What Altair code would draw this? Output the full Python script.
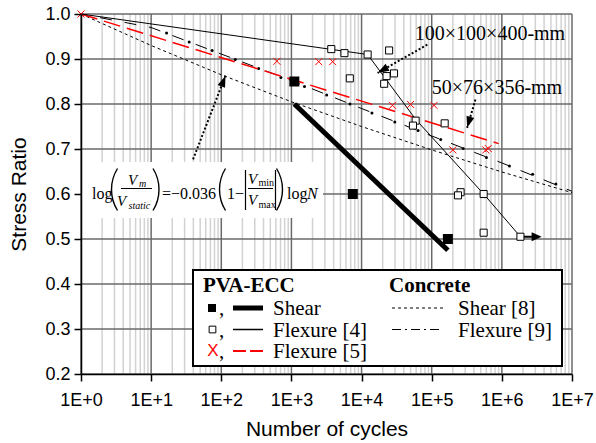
import math
import altair as alt
import pandas as pd

# ---------------- data ----------------
x_ticks = [1, 10, 100, 1000, 10000, 100000, 1000000, 10000000]
y_ticks = [0.2, 0.3, 0.4, 0.5, 0.6, 0.7, 0.8, 0.9, 1.0]

# PVA-ECC shear: filled squares + thick fit line
ecc_shear_n = [1100, 7500, 170000]
ecc_shear_s = [0.85, 0.60, 0.50]
ecc_shear_fit_n = [1100, 170000]
ecc_shear_fit_s = [0.80, 0.475]

# PVA-ECC flexure [4]: open squares + thin line + run-out arrow
ecc_flex4_n = [3700, 5700, 6800, 12200, 24700, 29000, 22700, 21000, 59000,
               54000, 153000, 258000, 237000, 550000, 550000, 1840000]
ecc_flex4_s = [0.922, 0.913, 0.857, 0.910, 0.919, 0.868, 0.862, 0.845, 0.763,
               0.752, 0.757, 0.604, 0.597, 0.600, 0.514, 0.505]
ecc_flex4_fit_n = [1, 12200, 59000, 550000, 1840000]
ecc_flex4_fit_s = [1.0, 0.910, 0.766, 0.600, 0.505]
ecc_flex4_runout_n = [1840000, 3300000]
ecc_flex4_runout_s = [0.505, 0.505]
ecc_flex4_runout_tip_n = [3690000]
ecc_flex4_runout_tip_s = [0.505]

# PVA-ECC flexure [5]: red crosses + red dashed line
ecc_flex5_n = [1, 621, 2450, 3870, 27600, 50000, 108000, 200000, 590000, 640000]
ecc_flex5_s = [1.0, 0.895, 0.894, 0.894, 0.797, 0.799, 0.797, 0.698, 0.698, 0.701]
ecc_flex5_fit_n = [1, 900000]
ecc_flex5_fit_s = [1.0, 0.712]

# Concrete shear [8]
conc_shear_n = [1, 10, 100, 1000, 10000, 100000, 1000000, 10000000]
conc_shear_s = [1.0, 0.930, 0.865, 0.805, 0.750, 0.698, 0.649, 0.603]

# Concrete flexure [9]
conc_flex_n = [1, 10, 100, 1000, 10000, 100000, 1000000, 10000000]
conc_flex_s = [1.0, 0.970, 0.911, 0.852, 0.790, 0.729, 0.669, 0.606]
conc_flex_dot_n = [16.6, 34.9, 74.1, 158, 341, 708, 1535, 3184, 6839, 14060,
                   29790, 63830, 134300, 281200, 602600, 1282000, 2748000, 5888000]
conc_flex_dot_s = [0.958, 0.938, 0.919, 0.899, 0.879, 0.859, 0.839, 0.820, 0.800,
                   0.780, 0.760, 0.741, 0.721, 0.701, 0.681, 0.662, 0.644, 0.622]

# annotation arrows (start -> tip)
arrow_start_n = [39.6, 86600, 420000]
arrow_start_s = [0.677, 0.932, 0.810]
arrow_tip_n = [114.8, 16900, 320000]
arrow_tip_s = [0.863, 0.869, 0.747]

# ---------------- layout ----------------
W, H = 491, 360
PADL, PADT = 81, 14
SERIF = "Liberation Serif"
SANS = "Liberation Sans"

xs = alt.Scale(type="log", domain=[1, 1e7], nice=False)
ys = alt.Scale(domain=[0.2, 1.0], nice=False, zero=False)
one = pd.DataFrame({"k": [0]})

x_axis = alt.Axis(
    values=x_ticks, labelExpr="'1E+' + format(log(datum.value)/LN10, '.0f')",
    labelFont=SANS, labelFontSize=18, labelColor="black", labelPadding=10,
    labelFlush=False, labelOverlap=False,
    tickColor="black", tickSize=7, tickWidth=1.5,
    domainColor="black", domainWidth=1.5, grid=False,
    title="Number of cycles", titleFont=SANS, titleFontSize=21,
    titleFontWeight="normal", titleColor="black",
    titleX=W / 2, titleY=61, titleAlign="center", titleBaseline="alphabetic",
    zindex=1,
)
y_axis = alt.Axis(
    values=y_ticks, format=".1f",
    labelFont=SANS, labelFontSize=18, labelColor="black", labelPadding=4,
    tickColor="black", tickSize=7, tickWidth=1.5,
    domainColor="black", domainWidth=1.5, grid=False,
    title="Stress Ratio", titleFont=SANS, titleFontSize=21,
    titleFontWeight="normal", titleColor="black",
    titleX=-56, titleY=H / 2, titleAngle=270, titleAlign="center",
    titleBaseline="alphabetic", zindex=1,
)


def df(n, s):
    return pd.DataFrame({"n": n, "s": s})


def X():
    return alt.X("n:Q", scale=xs, axis=x_axis)


def Y():
    return alt.Y("s:Q", scale=ys, axis=y_axis)


def txt(s, x, y, size, font=SERIF, style="normal", weight="normal",
        align="left", baseline="alphabetic", color="black"):
    return alt.Chart(one).mark_text(
        text=s, font=font, fontSize=size, fontStyle=style, fontWeight=weight,
        align=align, baseline=baseline, color=color
    ).encode(x=alt.value(x - PADL), y=alt.value(y - PADT))


def hline(x1, x2, y, width=1.0, dash=None, color="black"):
    kw = dict(color=color, strokeWidth=width, strokeCap="butt")
    if dash:
        kw["strokeDash"] = dash
    return alt.Chart(one).mark_rule(**kw).encode(
        x=alt.value(x1 - PADL), x2=alt.value(x2 - PADL), y=alt.value(y - PADT))


def vline(x, y1, y2, width=1.0, color="black"):
    return alt.Chart(one).mark_rule(color=color, strokeWidth=width).encode(
        x=alt.value(x - PADL), y=alt.value(y1 - PADT), y2=alt.value(y2 - PADT))


def pt(x, y, **kw):
    return alt.Chart(one).mark_point(**kw).encode(
        x=alt.value(x - PADL), y=alt.value(y - PADT))


def paren(x_edge, yc, left=True, half=21.0, bow=6.0, width=1.4):
    """Tall thin parenthesis drawn as a circular arc."""
    r = (half ** 2 + bow ** 2) / (2 * bow)
    a = math.asin(half / r)
    if left:
        cx = x_edge + r
        t1, t2 = 1.5 * math.pi - a, 1.5 * math.pi + a
    else:
        cx = x_edge - r
        t1, t2 = 0.5 * math.pi - a, 0.5 * math.pi + a
    return alt.Chart(one).mark_arc(
        color="black", radius=r + width / 2, radius2=r - width / 2,
        theta=t1, theta2=t2).encode(
        x=alt.value(cx - PADL), y=alt.value(yc - PADT))


layers = []

# minor vertical gridlines (2..9 x each decade)
minor_n = [m * 10 ** k for k in range(7) for m in range(2, 10)]
layers.append(alt.Chart(pd.DataFrame({"n": minor_n})).mark_rule(
    color="#d2d2d2", strokeWidth=1.5).encode(
    x=X(), y=alt.value(0), y2=alt.value(H)))
# major horizontal gridlines
layers.append(alt.Chart(pd.DataFrame({"s": y_ticks})).mark_rule(
    color="#6a6a6a", strokeWidth=1.5).encode(
    y=Y(), x=alt.value(0), x2=alt.value(W)))
# major vertical gridlines
layers.append(alt.Chart(pd.DataFrame({"n": x_ticks})).mark_rule(
    color="#6a6a6a", strokeWidth=1.5).encode(
    x=X(), y=alt.value(0), y2=alt.value(H)))

# formula background box
layers.append(alt.Chart(one).mark_rect(color="white").encode(
    x=alt.value(82 - PADL), x2=alt.value(323 - PADL),
    y=alt.value(162 - PADT), y2=alt.value(218 - PADT)))

# concrete shear [8]
layers.append(alt.Chart(df(conc_shear_n, conc_shear_s)).mark_line(
    color="black", strokeWidth=1, strokeDash=[3, 3]).encode(x=X(), y=Y()))
# concrete flexure [9]
layers.append(alt.Chart(df(conc_flex_n, conc_flex_s)).mark_line(
    color="black", strokeWidth=1, strokeDash=[12, 12.9],
    strokeDashOffset=5.5).encode(x=X(), y=Y()))
layers.append(alt.Chart(df(conc_flex_dot_n, conc_flex_dot_s)).mark_circle(
    color="black", size=9, opacity=1).encode(x=X(), y=Y()))

# PVA-ECC fits
layers.append(alt.Chart(df(ecc_flex5_fit_n, ecc_flex5_fit_s)).mark_line(
    color="#ff0000", strokeWidth=1.5, strokeDash=[17, 7]).encode(x=X(), y=Y()))
layers.append(alt.Chart(df(ecc_flex4_fit_n, ecc_flex4_fit_s)).mark_line(
    color="black", strokeWidth=1).encode(x=X(), y=Y()))
layers.append(alt.Chart(df(ecc_shear_fit_n, ecc_shear_fit_s)).mark_line(
    color="black", strokeWidth=5, strokeCap="butt").encode(x=X(), y=Y()))

# run-out arrow for flexure [4]
layers.append(alt.Chart(pd.DataFrame({
    "n": [ecc_flex4_runout_n[0]], "n2": [ecc_flex4_runout_n[1]],
    "s": [ecc_flex4_runout_s[0]]})).mark_rule(color="black", strokeWidth=2).encode(
    x=X(), x2="n2:Q", y=Y()))
layers.append(alt.Chart(df(ecc_flex4_runout_tip_n, ecc_flex4_runout_tip_s)).mark_point(
    shape="M0,0L-2,-0.9L-2,0.9Z", filled=True, color="black", opacity=1,
    size=100).encode(x=X(), y=Y()))

# points
layers.append(alt.Chart(df(ecc_flex4_n, ecc_flex4_s)).mark_point(
    shape="square", filled=True, fill="white", stroke="black", strokeWidth=1,
    size=50, opacity=1).encode(x=X(), y=Y()))
layers.append(alt.Chart(df(ecc_flex5_n, ecc_flex5_s)).mark_point(
    shape="M-1,-1L1,1M-1,1L1,-1", filled=False, color="#ff0000",
    strokeWidth=1, size=49, opacity=1).encode(x=X(), y=Y()))
layers.append(alt.Chart(df(ecc_shear_n, ecc_shear_s)).mark_point(
    shape="square", filled=True, color="black", size=100, opacity=1).encode(
    x=X(), y=Y()))

# annotation arrows (dotted)
arr = pd.DataFrame({"n": arrow_start_n, "s": arrow_start_s,
                    "n2": arrow_tip_n, "s2": arrow_tip_s})
layers.append(alt.Chart(arr).mark_rule(
    color="black", strokeWidth=2, strokeDash=[2, 2]).encode(
    x=X(), y=Y(), x2="n2:Q", y2="s2:Q"))
dec_px = W / 7.0
unit_px = H / 0.8
for n0, s0, n1, s1 in zip(arrow_start_n, arrow_start_s, arrow_tip_n, arrow_tip_s):
    dx = (math.log10(n1) - math.log10(n0)) * dec_px
    dy = -(s1 - s0) * unit_px
    ang = math.degrees(math.atan2(dx, -dy)) % 360
    layers.append(alt.Chart(df([n1], [s1])).mark_point(
        shape="M0,0L-0.8,2.3L0.8,2.3Z", filled=True, color="black",
        opacity=1, size=100, angle=ang).encode(x=X(), y=Y()))

layers.append(txt("100\u00d7100\u00d7400-mm", 490, 40, 20, align="center"))
layers.append(txt("50\u00d776\u00d7356-mm", 497, 94, 20, align="center"))

# formula  log(Vm/Vstatic) = -0.036 (1 - |Vmin/Vmax|) log N
F = 16
VF = 15
S = 10
layers += [
    txt("log", 92, 199, F),
    paren(111.5, 189.5, left=True),
    txt("V", 128, 185, VF, style="italic"),
    txt("m", 139, 187, S, style="italic"),
    hline(121, 152, 188.5, 1),
    txt("V", 117, 206, VF, style="italic"),
    txt("static", 128.5, 209, S, style="italic"),
    paren(159, 189.5, left=False),
    txt("=", 162, 199, F),
    txt("\u22120.036", 171, 199, F),
    paren(219.5, 189.5, left=True),
    txt("1\u2212", 227, 199, F),
    vline(245.5, 170, 210, 1.2),
    txt("V", 248, 184, VF, style="italic"),
    txt("min", 258.5, 186, S),
    hline(248, 273, 188.5, 1),
    txt("V", 248, 205, VF, style="italic"),
    txt("max", 258.5, 208, S),
    vline(275.5, 170, 210, 1.2),
    paren(282.5, 189.5, left=False),
    txt("log", 287, 199, F),
    txt("N", 307, 199, F, style="italic"),
]

# legend
layers.append(alt.Chart(one).mark_rect(
    fill="white", stroke="black", strokeWidth=2).encode(
    x=alt.value(193 - PADL), x2=alt.value(562 - PADL),
    y=alt.value(270 - PADT), y2=alt.value(366 - PADT)))
rows = [308, 329.5, 351]
base = [315, 336.5, 358]
layers += [
    txt("PVA-ECC", 203, 292, 21, weight="bold"),
    txt("Concrete", 389, 292, 21, weight="bold"),
    pt(212, rows[0], shape="square", filled=True, color="black", size=64, opacity=1),
    txt(",", 219, base[0], 21),
    hline(233, 263, rows[0], 5),
    txt("Shear", 273, base[0], 21),
    pt(212.5, rows[1], shape="square", filled=True, fill="white", stroke="black",
       strokeWidth=1, size=45, opacity=1),
    txt(",", 219, base[1], 21),
    hline(233, 263, rows[1], 1.5),
    txt("Flexure [4]", 273, base[1], 21),
    txt("X", 213, rows[2], 17, font=SANS, align="center", baseline="middle",
        color="#ff0000"),
    txt(",", 219, base[2], 21),
    hline(233, 263, rows[2], 2, dash=[13, 4], color="#ff0000"),
    txt("Flexure [5]", 273, base[2], 21),
    hline(392, 443, rows[0], 1, dash=[3, 3]),
    txt("Shear [8]", 458, base[0], 21),
    hline(392, 443, rows[1], 1.2, dash=[9, 4, 2, 4]),
    txt("Flexure [9]", 458, base[1], 21),
]

chart = alt.layer(*layers).properties(
    width=W, height=H,
    autosize=alt.AutoSizeParams(type="none"),
    padding={"left": PADL, "top": PADT, "right": 596 - PADL - W,
             "bottom": 443 - PADT - H},
    background="white",
).configure_view(stroke=None)

chart.save("out.html", embed_options={"renderer": "svg", "actions": False})
